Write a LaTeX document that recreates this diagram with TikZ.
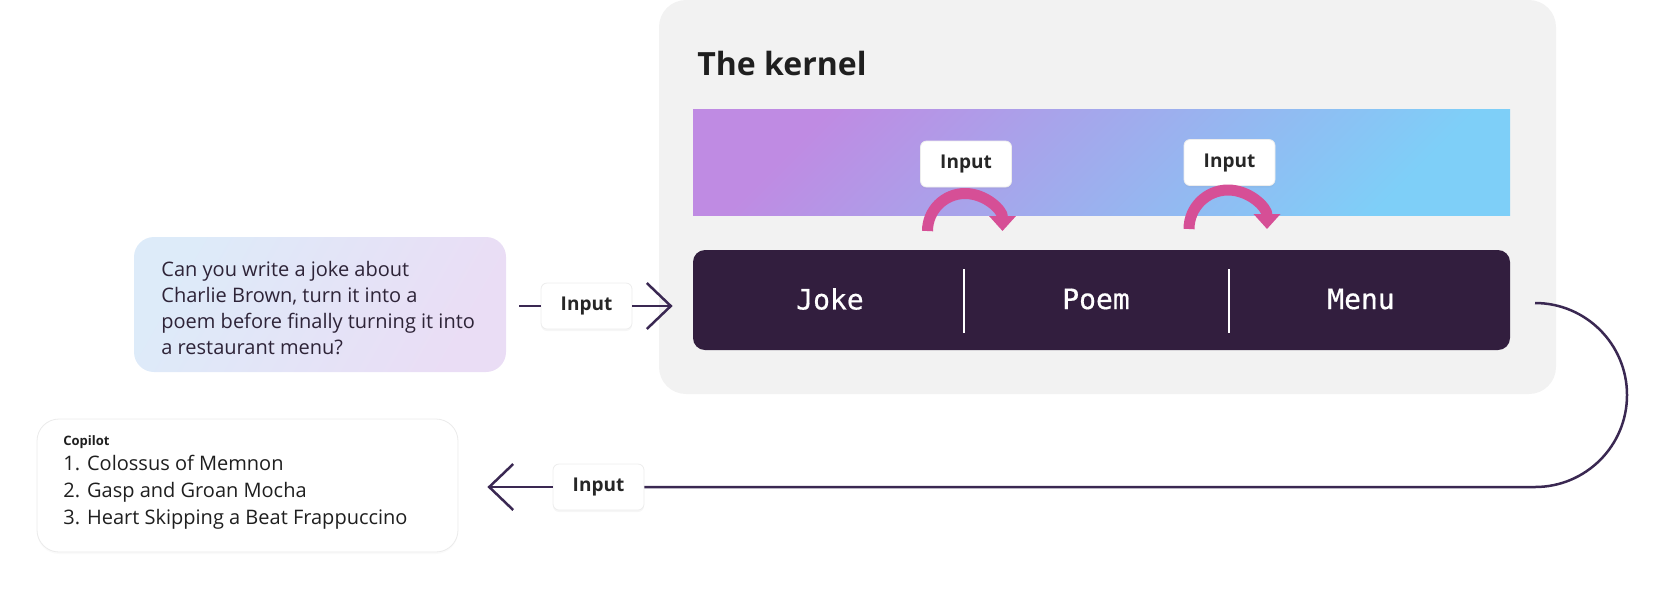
\documentclass[tikz,border=0pt]{standalone}
\usepackage{fontspec}
\setmainfont{Open Sans}
\newfontfamily\codefont[FakeBold=0.6]{DejaVu Sans Mono}
\usetikzlibrary{arrows.meta,shadows}
\definecolor{kgrey}{HTML}{F2F2F2}
\definecolor{kbar}{HTML}{321E3E}
\definecolor{kline}{HTML}{3A2852}
\definecolor{kpink}{HTML}{D64F96}
\definecolor{kviolet}{HTML}{BF8BE3}
\definecolor{ksky}{HTML}{7ECFF8}
\definecolor{qblue}{HTML}{DDEBF9}
\definecolor{qlilac}{HTML}{EADDF5}
\definecolor{ktext}{HTML}{2E2438}
\newcommand{\inp}{Input}

\begin{document}
\begin{tikzpicture}[x=5pt,y=5pt]
  \tikzstyle{every node}+=[inner sep=0pt]
  \tikzstyle{inbox}=[fill=white, draw=black!7, rounded corners=3pt, minimum width=45.5pt, minimum height=23pt, font=\bfseries\fontsize{9.5}{11}\selectfont, text=black!85, drop shadow={opacity=0.07, shadow xshift=0pt, shadow yshift=-1pt}]
  \tikzstyle{flow}=[kline, line width=1.25pt]
  \tikzstyle{tip}=[-{Straight Barb[length=12pt, width=23pt]}]
  \tikzstyle{hop}=[kpink, line width=5.5pt, -{Triangle[length=7.5pt, width=13pt]}]
  \tikzstyle{word}=[text=white, font=\codefont\fontsize{14}{16}\selectfont]
  \useasboundingbox (0,0) rectangle (165.9,-60.2);
  % the kernel
  \node[fill=kgrey, rounded corners=13.5pt, minimum width=448.5pt, minimum height=197pt] (kernel) at (110.75,-19.7) {};
  \node[anchor=west, font=\bfseries\fontsize{16}{19}\selectfont, text=black!88] (title) at (69.7,-6.3) {The kernel};
  \node[left color=kviolet, right color=ksky, shading angle=45, minimum width=408.5pt, minimum height=53pt] (band) at (110.15,-16.2) {};
  \node[fill=kbar, rounded corners=6pt, minimum width=408.5pt, minimum height=50pt] (bar) at (110.15,-30) {};
  \draw[white, line width=1pt] (96.4,-26.9) -- (96.4,-33.3);
  \draw[white, line width=1pt] (122.9,-26.9) -- (122.9,-33.3);
  \node[word] (joke) at (83,-29.9) {Joke};
  \node[word] (poem) at (109.6,-29.9) {Poem};
  \node[word] (menu) at (136.1,-29.9) {Menu};
  \node[inbox] (in2) at (96.6,-16.4) {\inp};
  \node[inbox] (in3) at (122.95,-16.25) {\inp};
  \coordinate (j1) at (92.75,-23.1);
  \coordinate (j2) at (118.9,-22.9);
  \draw[hop] (j1) arc (180:0:3.75);
  \draw[hop] (j2) arc (180:0:3.9);
  % question
  \node[left color=qblue, right color=qlilac, shading angle=60, rounded corners=10pt, minimum width=186pt, minimum height=67.5pt] (query) at (32,-30.45) {};
  \node[anchor=west, align=left, text=ktext, font=\fontsize{10}{12.85}\selectfont] (qtext) at (16.1,-30.8)
    {Can you write a joke about\\Charlie Brown, turn it into a\\poem before finally turning it into\\a restaurant menu?};
  \node[inbox] (in1) at (58.65,-30.6) {\inp};
  \draw[flow] ([xshift=6.5pt]query.east |- in1) -- (in1);
  \draw[flow, tip, shorten >=10pt] (in1) -- (in1 -| bar.west);
  % answer
  \node[fill=white, draw=black!8, rounded corners=11pt, minimum width=210.5pt, minimum height=66.5pt, drop shadow={opacity=0.04, shadow xshift=0pt, shadow yshift=-1pt}] (reply) at (24.75,-48.55) {};
  \node[anchor=west, align=left, text=black!88, font=\fontsize{10}{13.5}\selectfont] (rtext) at (6.3,-48.2)
    {{\bfseries\fontsize{6.5}{8}\selectfont Copilot}\\[-1pt]1. Colossus of Memnon\\2. Gasp and Groan Mocha\\3. Heart Skipping a Beat Frappuccino};
  \node[inbox] (in4) at (59.85,-48.7) {\inp};
  \coordinate (loop) at (153.5,-30.3);
  \draw[flow] (loop) arc (90:-90:9.2) -- (in4);
  \draw[flow, tip, shorten >=14.5pt] (in4) -- (in4 -| reply.east);
\end{tikzpicture}
\end{document}
